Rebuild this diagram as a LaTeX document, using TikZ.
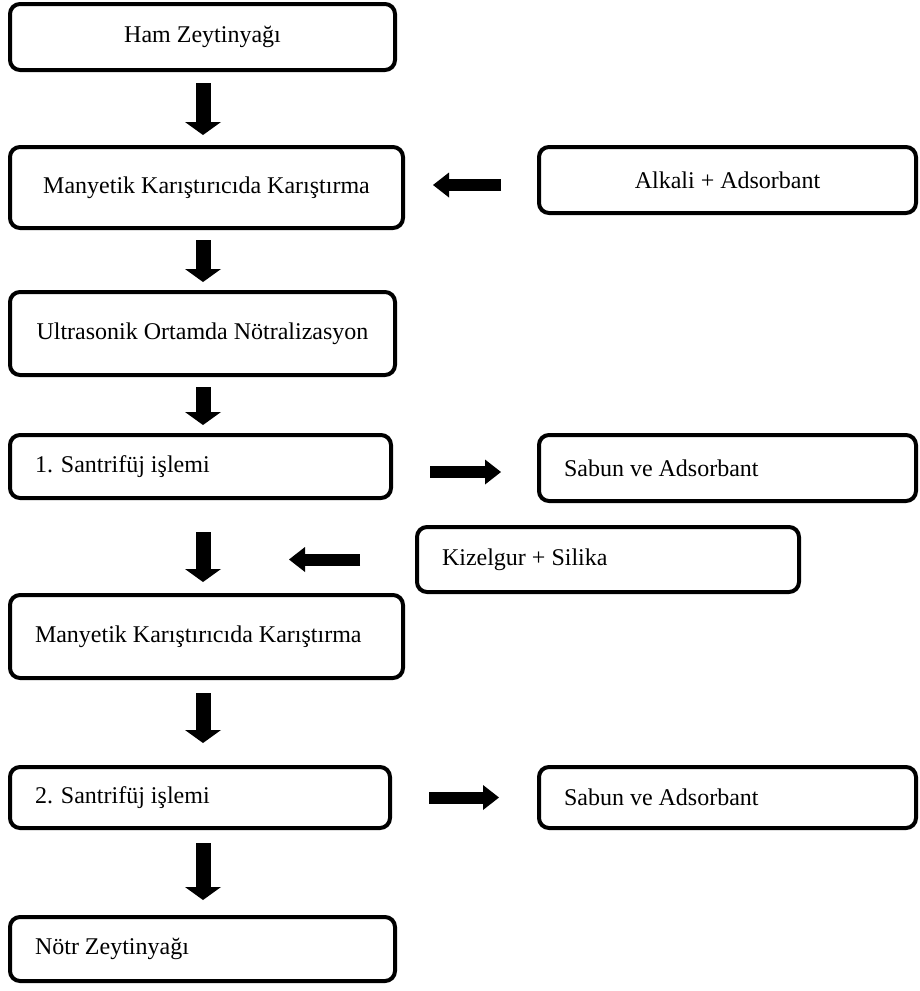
\documentclass[tikz,border=0pt]{standalone}
\usepackage{fontspec}
\setmainfont{Liberation Serif}
\usetikzlibrary{arrows.meta,calc}

\tikzset{
  box/.style 2 args={draw, line width=4pt, rounded corners=10pt,
    minimum width=#1, minimum height=#2, inner sep=0pt,
    font=\fontsize{24}{28}\selectfont},
  lbox/.style 2 args={draw, line width=4pt, rounded corners=10pt,
    text width=#1, minimum height=#2, inner xsep=25pt, inner ysep=0pt,
    align=flush left, font=\fontsize{24}{28}\selectfont},
  downarrow/.style={line width=15pt, -{Triangle[length=13pt,width=36pt,line width=0pt]}},
  sidearrow/.style={line width=12pt, -{Triangle[length=16pt,width=25pt,line width=0pt]}}
}

\begin{document}
\begin{tikzpicture}[x=1pt,y=-1pt]

\useasboundingbox (0,0) rectangle (920,991);

% Main steps
\node[box={385pt}{66pt}] (ham) at (202.5,37) {Ham Zeytinyağı};
\node[box={393pt}{81pt}] (mix1) at (206.5,187.5) {Manyetik Karıştırıcıda Karıştırma};
\node[box={385pt}{83pt}] (ultra) at (202.5,333.5) {Ultrasonik Ortamda Nötralizasyon};
\node[lbox={331pt}{63pt}] (sant1) at (200.5,466.5) {1. Santrifüj işlemi};
\node[lbox={343pt}{83pt}] (mix2) at (206.5,636.5) {Manyetik Karıştırıcıda Karıştırma};
\node[lbox={330pt}{61pt}] (sant2) at (200,797.5) {2. Santrifüj işlemi};
\node[lbox={335pt}{64pt}] (notr) at (202.5,949) {Nötr Zeytinyağı};

% Side inputs and outputs
\node[box={377pt}{66pt}] (alkali) at (727.5,180) {Alkali + Adsorbant};
\node[lbox={327pt}{66pt}] (sabun1) at (727.5,468) {Sabun ve Adsorbant};
\node[lbox={332pt}{65pt}] (kizel) at (608,559.5) {Kizelgur + Silika};
\node[lbox={327pt}{61pt}] (sabun2) at (727.5,797.5) {Sabun ve Adsorbant};

% Point on the main line where the additives join
\coordinate (join) at (203,559.5);

% Downward flow
\draw[downarrow, shorten <=11pt, shorten >=10pt] (ham.south -| join) -- (mix1.north -| join);
\draw[downarrow, shorten <=10pt, shorten >=8pt] (mix1.south -| join) -- (ultra.north -| join);
\draw[downarrow, shorten <=10pt, shorten >=8pt] (ultra.south -| join) -- (sant1.north -| join);
\draw[downarrow, shorten <=32pt, shorten >=11pt] (sant1.south -| join) -- (mix2.north -| join);
\draw[downarrow, shorten <=13pt, shorten >=22pt] (mix2.south -| join) -- (sant2.north -| join);
\draw[downarrow, shorten <=13pt, shorten >=15pt] (sant2.south -| join) -- (notr.north -| join);

% Side arrows
\draw[sidearrow, shorten <=36pt, shorten >=28pt] (alkali.west |- 0,185) -- (mix1.east |- 0,185);
\draw[sidearrow, shorten <=37pt, shorten >=36pt] (sant1.east |- 0,472) -- (sabun1.west |- 0,472);
\draw[sidearrow, shorten <=55pt, shorten >=86pt] (kizel.west) -- (join);
\draw[sidearrow, shorten <=37pt, shorten >=38pt] (sant2.east) -- (sabun2.west |- sant2.east);

\end{tikzpicture}
\end{document}
